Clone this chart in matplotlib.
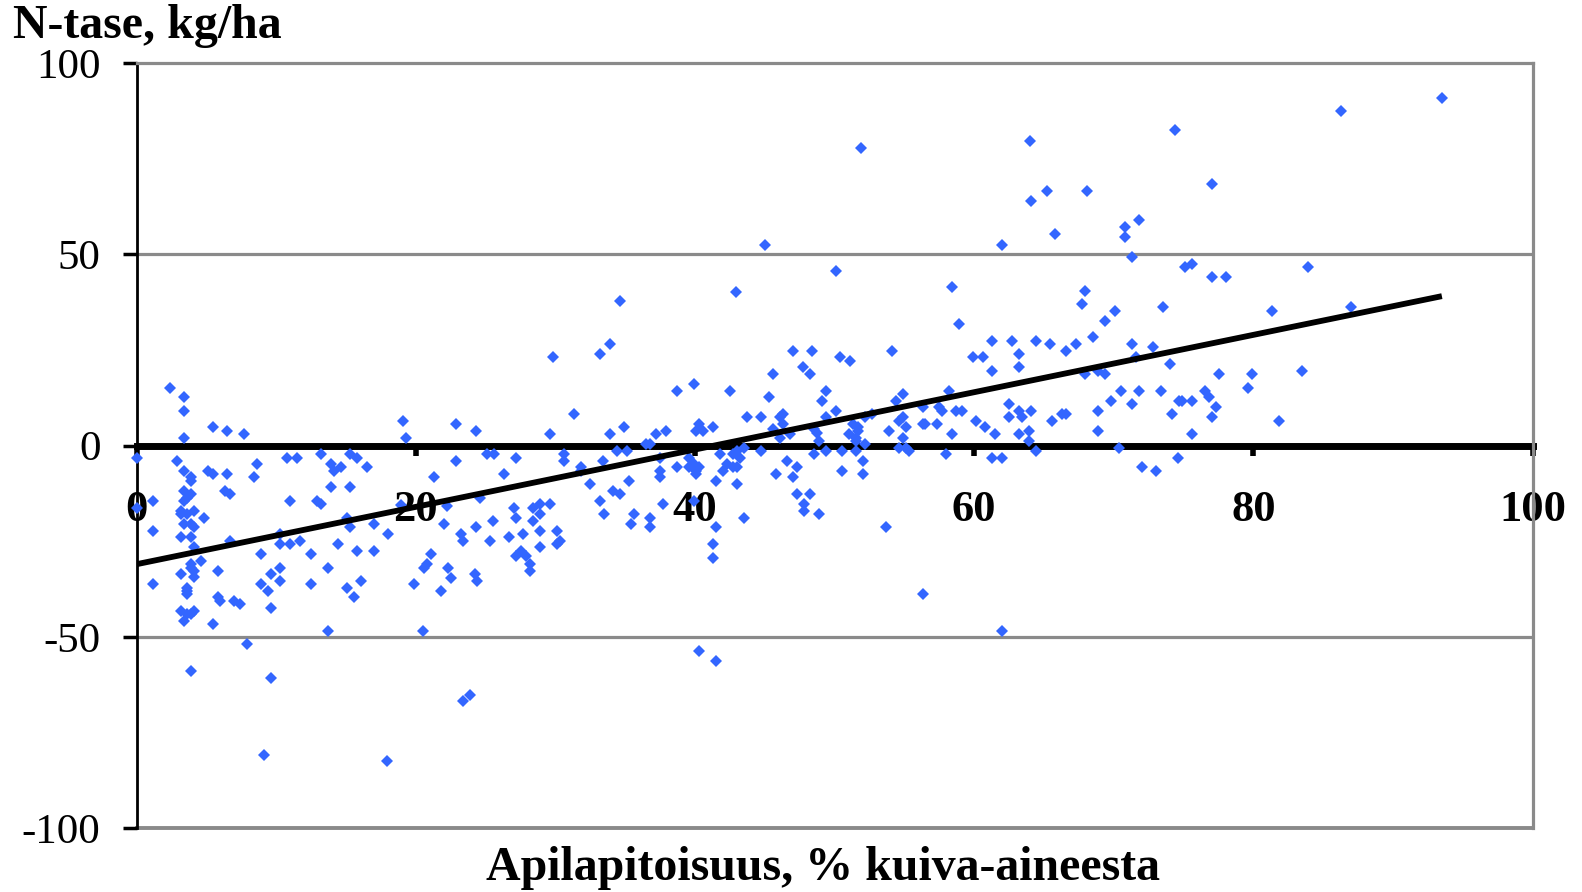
import matplotlib
matplotlib.use("Agg")
import matplotlib.pyplot as plt
import numpy as np

# ---- data ----
pts_a = [(0.05,-3.1),(0.05,-16.2),(1.2,-14.4),(1.2,-22.3),(1.2,-36.3),(2.4,15.2),(2.9,-4.0),(3.4,12.6),
         (3.4,9.1),(3.4,2.1),(3.4,-6.6),(3.9,-8.3),(3.9,-9.2),(3.4,-11.8),(3.9,-12.7),(3.6,-13.6),
         (3.4,-14.4),(3.2,-17.1),(3.2,-17.9),(3.6,-17.9),(4.1,-17.1),(3.4,-20.5),(3.9,-20.5),(4.1,-21.4),
         (3.2,-24.0),(3.9,-24.0),(4.1,-26.6),(4.8,-18.8),(4.6,-30.2),(3.9,-31.0),(3.9,-31.9),(4.1,-32.7),
         (3.2,-33.6),(4.1,-34.4),(3.6,-37.1),(3.6,-38.0),(3.6,-38.8),(3.2,-43.2),(3.6,-44.1),(4.1,-43.2),
         (3.9,-44.1),(3.4,-45.9),(3.9,-59.0)]
pts_b = [(5.5,4.8),(6.5,3.9),(7.7,3.0),(5.1,-6.6),(5.5,-7.5),(6.5,-7.5),(6.3,-11.8),(6.7,-12.7),
         (8.6,-4.8),(8.4,-8.3),(6.7,-24.9),(8.9,-28.4),(9.6,-33.6),(8.9,-36.3),(9.4,-38.0),(9.6,-42.4),
         (5.8,-32.8),(5.8,-39.7),(6.0,-40.6),(7.0,-40.6),(7.4,-41.5),(5.5,-46.7),(7.9,-52.0),(9.6,-60.7),
         (9.1,-80.8)]
pts_c = [(10.8,-3.1),(11.5,-3.1),(13.2,-2.2),(13.9,-4.8),(14.1,-6.6),(14.6,-5.7),(15.3,-2.2),(15.8,-3.1),
         (16.5,-5.7),(13.9,-10.9),(15.3,-10.9),(11.0,-14.4),(12.9,-14.4),(13.2,-15.3),(15.1,-18.8),
         (15.3,-21.4),(17.0,-20.5),(18.0,-23.2),(10.3,-23.2),(10.3,-25.8),(11.0,-25.8),(11.7,-24.9),
         (12.5,-28.4),(14.4,-25.8),(15.8,-27.5),(17.0,-27.5),(10.3,-31.9),(10.3,-35.4),(12.5,-36.3),
         (13.7,-31.9),(15.1,-37.1),(15.6,-39.7),(16.1,-35.4),(19.9,-36.3),(13.7,-48.5),(17.9,-82.5),
         (19.1,6.5),(19.3,2.1),(18.9,-15.5)]
pts_d = [(22.9,5.6),(24.3,3.9),(21.3,-8.3),(22.9,-4.0),(22.0,-20.5),(23.2,-23.2),(23.4,-24.9),(24.3,-21.4),
         (22.2,-15.8),(20.6,-31.9),(20.8,-31.0),(21.1,-28.4),(21.8,-38.0),(22.3,-31.9),(22.5,-34.5),
         (24.2,-33.6),(24.4,-35.4),(20.5,-48.5),(23.4,-66.8),(23.9,-65.1),(29.8,23.1),(25.1,-2.2),
         (25.6,-2.2),(27.2,-3.1),(26.3,-7.5),(24.6,-13.6),(25.3,-24.9),(25.5,-19.7),(27.0,-16.2),
         (27.2,-18.8),(26.7,-24.0),(27.7,-23.2),(27.5,-27.5),(27.2,-28.8),(27.9,-28.8),(28.2,-31.0),
         (28.2,-32.8),(28.9,-26.6),(30.1,-25.8),(30.3,-24.9),(28.4,-16.2),(28.9,-15.3),(28.4,-19.7),
         (28.9,-17.9),(28.9,-22.3),(29.6,-15.3),(30.1,-22.3),(30.6,-2.2),(30.6,-4.0),(29.6,3.0)]
pts_e = [(31.3,8.2),(33.2,24.0),(33.9,26.6),(34.6,37.9),(33.9,3.0),(34.9,4.8),(37.2,3.0),(37.9,3.9),
         (36.5,0.4),(36.8,0.4),(38.7,14.3),(39.9,16.1),(31.8,-5.7),(31.8,-6.6),(33.4,-4.0),(34.4,-1.4),
         (35.1,-1.4),(32.5,-10.0),(35.3,-9.2),(37.5,-3.1),(37.5,-6.6),(37.5,-8.3),(38.7,-5.7),(39.6,-3.1),
         (39.6,-5.7),(39.9,-4.8),(40.1,-7.5),(40.3,-5.7),(40.1,-6.6),(33.2,-14.4),(33.5,-17.9),
         (34.1,-11.8),(34.6,-12.7),(35.6,-17.9),(35.4,-20.5),(36.8,-18.8),(36.8,-21.4),(37.7,-15.3),
         (39.9,-14.4)]
pts_f = [(40.3,5.6),(40.1,3.9),(40.6,3.9),(41.3,4.8),(42.5,14.3),(43.7,7.4),(44.7,7.4),(45.6,4.3),
         (45.6,18.7),(45.3,12.6),(47.0,24.8),(48.4,24.8),(47.7,20.5),(48.2,18.7),(49.4,14.3),(49.1,11.7),
         (49.4,7.4),(45.0,52.6),(42.9,40.3),(46.1,7.4),(46.3,8.2),(46.3,5.6),(46.1,2.1),(46.8,3.0),
         (48.5,4.3),(48.7,3.4),(48.9,1.3),(48.5,-2.2),(49.4,-1.4),(41.8,-2.2),(41.5,-9.2),(42.0,-6.6),
         (42.3,-4.8),(42.7,-5.7),(43.0,-5.7),(42.7,-2.2),(43.0,-1.4),(43.2,-3.1),(43.5,-0.5),(44.7,-1.4),
         (43.0,-10.0),(43.5,-18.8),(45.8,-7.5),(46.6,-4.0),(47.3,-5.7),(47.0,-8.3),(47.3,-12.7),
         (47.8,-15.3),(48.2,-12.7),(47.8,-17.1),(48.9,-17.9),(41.5,-21.4),(41.3,-25.8),(41.3,-29.3),
         (40.3,-53.7),(41.5,-56.3)]
pts_g = [(50.1,45.8),(58.4,41.4),(58.9,31.8),(50.4,23.1),(51.1,22.2),(54.1,24.8),(59.9,23.1),(58.2,14.3),
         (57.5,10.0),(57.7,9.1),(58.7,9.1),(59.1,9.1),(56.3,10.0),(56.3,5.6),(56.5,5.6),(57.3,5.6),
         (53.9,3.9),(54.4,11.7),(54.9,13.4),(54.6,6.5),(54.9,7.4),(55.1,4.8),(54.9,2.1),(54.6,-0.5),
         (55.1,-0.5),(55.3,-1.4),(58.0,-2.2),(58.4,3.0),(50.1,9.1),(51.3,5.6),(51.7,4.8),(51.7,3.9),
         (51.0,3.0),(51.5,2.1),(51.5,1.3),(52.2,0.4),(52.7,8.2),(52.2,7.4),(50.5,-1.4),(51.5,-1.4),
         (52.0,-4.0),(50.5,-6.6),(52.0,-7.5),(53.7,-21.4),(56.3,-38.9),(51.9,77.9)]
pts_h = [(60.6,23.1),(61.3,27.4),(62.7,27.4),(63.2,24.0),(61.3,19.6),(63.2,20.5),(64.4,27.4),(65.4,26.6),
         (66.6,24.8),(67.3,26.6),(68.5,28.4),(67.9,18.7),(68.9,19.6),(69.4,18.7),(69.8,11.7),(68.9,9.1),
         (68.9,3.9),(62.5,10.9),(62.5,7.4),(63.2,9.1),(63.4,7.4),(64.1,9.1),(63.9,3.9),(63.2,3.0),
         (63.9,1.3),(64.4,-1.4),(65.6,6.5),(66.3,8.2),(66.6,8.2),(60.1,6.5),(60.8,4.8),(61.5,3.0),
         (61.3,-3.1),(62.0,-3.1),(62.0,-48.5),(64.1,64.0),(65.8,55.3),(62.0,52.6),(64.0,79.6),(65.2,66.5),
         (68.1,66.5),(67.9,40.5),(67.7,37.1),(69.4,32.7)]
pts_i = [(70.8,57.1),(70.8,54.5),(71.8,58.9),(71.3,49.3),(70.1,35.3),(73.5,36.2),(71.3,26.6),(71.6,23.1),
         (72.8,25.7),(74.0,21.3),(70.5,14.3),(71.8,14.3),(73.4,14.3),(71.3,10.9),(74.2,8.2),(74.7,11.7),
         (70.4,-0.5),(72.0,-5.7),(73.0,-6.6),(74.6,-3.1),(74.4,82.5),(77.0,68.5),(75.1,46.6),(75.6,47.5),
         (77.0,44.0),(78.0,44.0),(77.5,18.7),(79.9,18.7),(79.6,15.2),(76.5,14.3),(76.8,12.6),(77.3,10.0),
         (77.0,7.4),(74.9,11.7),(75.6,11.7),(75.6,3.0)]
pts_j = [(83.9,46.6),(81.3,35.3),(87.0,36.2),(83.5,19.6),(81.8,6.5),(86.3,87.5),(93.5,91.0)]

# trend line end points (linear fit shown in the chart)
trend_x = [0.0, 93.5]
trend_y = [-31.0, 39.1]

x_ticks = [0, 20, 40, 60, 80, 100]
y_ticks = [-100, -50, 0, 50, 100]
x_title = "Apilapitoisuus, % kuiva-aineesta"
y_title = "N-tase, kg/ha"

all_pts = pts_a + pts_b + pts_c + pts_d + pts_e + pts_f + pts_g + pts_h + pts_i + pts_j
apila = [p[0] for p in all_pts]
ntase = [p[1] for p in all_pts]

plt.rcParams['font.family'] = ['Liberation Serif', 'DejaVu Serif']

W, H = 1582, 892
fig = plt.figure(figsize=(W/100, H/100), dpi=100)
l, r, t, b = 136.7, 1532.6, 63.3, 828.0
ax = fig.add_axes([l/W, 1-b/H, (r-l)/W, (b-t)/H])
ax.set_xlim(0, 100)
ax.set_ylim(-100, 100)

grey = '#8a8a8a'
for yv in [50, -50]:
    ax.axhline(yv, color=grey, lw=2.3, zorder=1)
ax.axhline(-100, color=grey, lw=2.8, zorder=1, clip_on=False)

ax.spines['top'].set_color(grey)
ax.spines['top'].set_linewidth(2.3)
ax.spines['right'].set_color(grey)
ax.spines['right'].set_linewidth(2.3)
ax.spines['left'].set_color('black')
ax.spines['left'].set_linewidth(2.0)
ax.spines['bottom'].set_position(('data', 0))
ax.spines['bottom'].set_color('black')
ax.spines['bottom'].set_linewidth(5.0)
ax.spines['bottom'].set_zorder(2)

ax.plot(apila, ntase, linestyle='none', marker='D', markersize=6.5,
        markerfacecolor='#3366ff', markeredgewidth=0, zorder=3, clip_on=False)
ax.plot(trend_x, trend_y, color='black', lw=4.2, solid_capstyle='butt', zorder=4)

ax.set_xticks(x_ticks)
ax.set_xticklabels([str(v) for v in x_ticks], fontsize=32, fontweight='bold')
ax.tick_params(axis='x', direction='out', length=7, width=4, pad=25, color='black')
ax.set_yticks(y_ticks)
ax.set_yticklabels([str(v) for v in y_ticks], fontsize=31)
ax.tick_params(axis='y', direction='out', length=10, width=2.5, pad=16, color='black')

fig.text(13/W, 1-38/H, y_title, fontsize=34.5, fontweight='bold', ha='left', va='baseline')
fig.text(823/W, 1-880/H, x_title, fontsize=34.5, fontweight='bold', ha='center', va='baseline')

fig.savefig('out.png', dpi=100)
